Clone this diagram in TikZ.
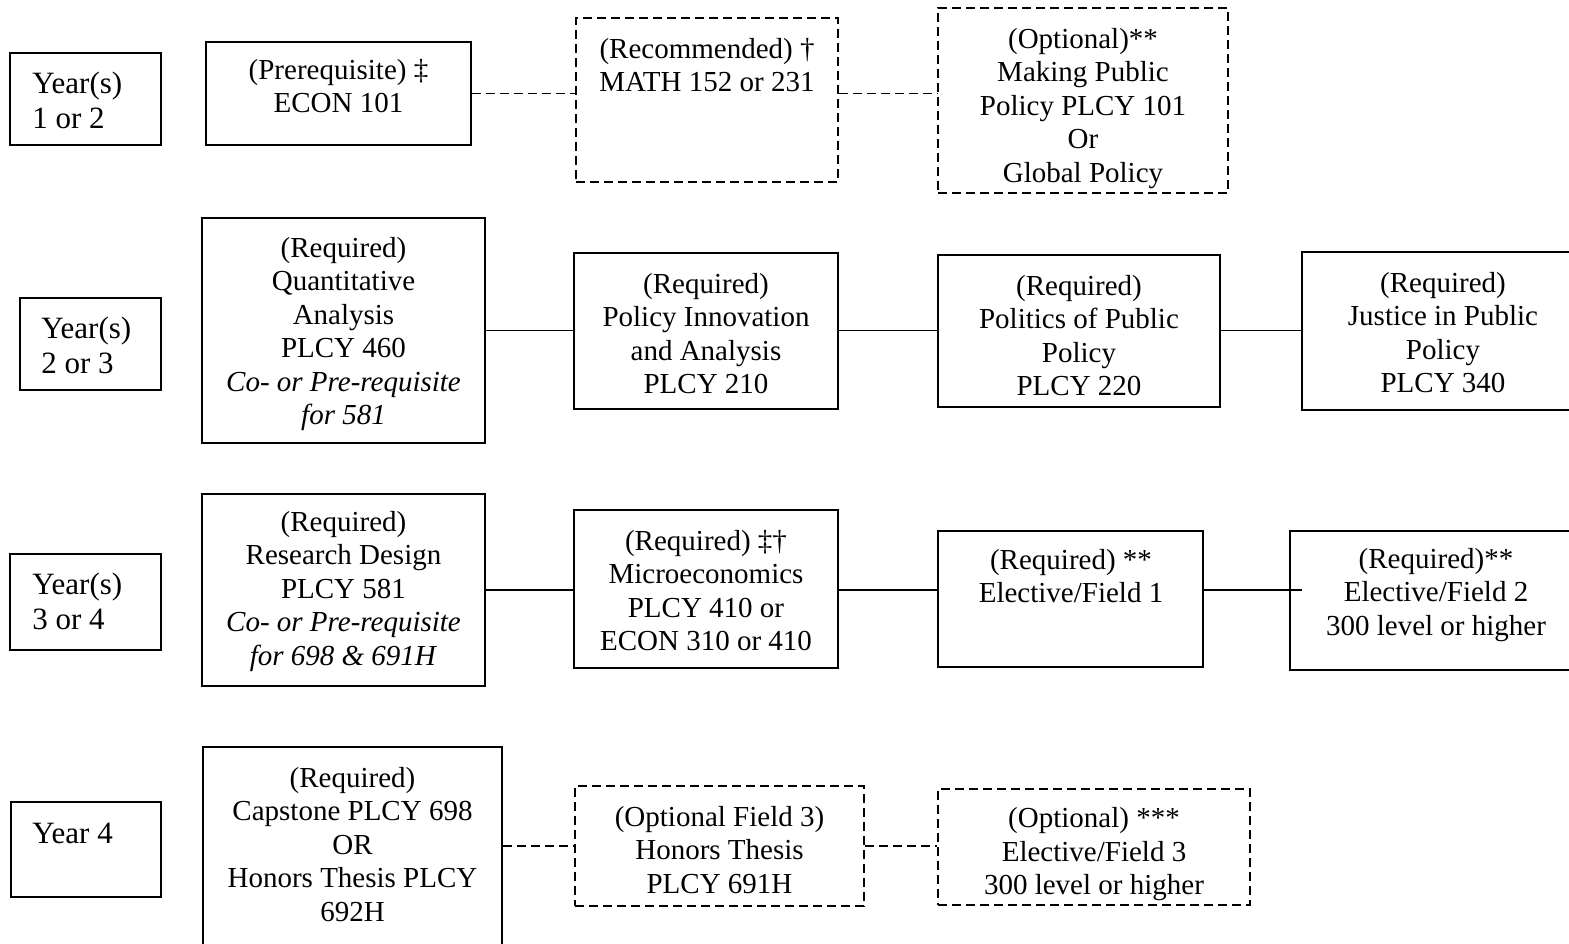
\documentclass[tikz,border=0pt]{standalone}
\usepackage{fontspec}
\setmainfont{Liberation Serif}
\usetikzlibrary{fit}
\tikzset{
  sbox/.style={draw, line width=0.85pt, inner sep=0pt},
  dbox/.style={draw, line width=0.85pt, inner sep=0pt, dash pattern=on 4.5pt off 2.5pt},
  txt/.style={inner sep=0pt, align=center, anchor=base, font=\fontsize{14.5}{16.75}\selectfont},
  ytxt/.style={inner sep=0pt, align=left, anchor=base west, font=\fontsize{15.5}{17.5}\selectfont},
  link/.style={line width=0.85pt},
  dlink/.style={line width=0.85pt, dash pattern=on 4.5pt off 2.5pt},
}
\begin{document}
\begin{tikzpicture}[x=0.5pt,y=-0.5pt]
\useasboundingbox (0,0) rectangle (1569,943);
% multi-line texts are anchored at the baseline of their last line

% ---------- Row 1 ----------
\node[sbox, fit={(10,53) (161,145)}] (y1) {};
\node[ytxt] (y1t) at (32,128) {Year(s)\\1 or 2};
\node[sbox, fit={(206,42) (471,145)}] (pre) {};
\node[txt] (pret) at (338.5,112.5) {(Prerequisite) ‡\\ECON 101};
\node[dbox, fit={(576,18) (838,182)}] (rec) {};
\node[txt] (rect) at (707,91.5) {(Recommended) †\\MATH 152 or 231};
\node[dbox, fit={(938,8) (1228,193)}] (opt) {};
\node[txt] (optt) at (1083,182) {(Optional)**\\Making Public\\Policy PLCY 101\\Or\\Global Policy};
\draw[dlink] (pre.east) -- (pre.east -| rec.west);
\draw[dlink] (rec.east |- pre.east) -- (opt.west |- pre.east);

% ---------- Row 2 ----------
\node[sbox, fit={(20,298) (161,390)}] (y2) {};
\node[ytxt] (y2t) at (41,373) {Year(s)\\2 or 3};
\node[sbox, fit={(202,218) (485,443)}] (qa) {};
\node[txt] (qat) at (343.5,424.5) {(Required)\\Quantitative\\Analysis\\PLCY 460\\\textit{Co- or Pre-requisite}\\\textit{for 581}};
\node[sbox, fit={(574,253) (838,409)}] (pia) {};
\node[txt] (piat) at (706,393.5) {(Required)\\Policy Innovation\\and Analysis\\PLCY 210};
\node[sbox, fit={(938,255) (1220,407)}] (ppp) {};
\node[txt] (pppt) at (1079,395.5) {(Required)\\Politics of Public\\Policy\\PLCY 220};
\node[sbox, fit={(1302,252) (1590,410)}] (jpp) {};
\node[txt] (jppt) at (1443,392.5) {(Required)\\Justice in Public\\Policy\\PLCY 340};
\draw[link] (qa.east) -- (qa.east -| pia.west);
\draw[link] (pia.east |- qa.east) -- (ppp.west |- qa.east);
\draw[link] (ppp.east |- qa.east) -- (jpp.west |- qa.east);

% ---------- Row 3 ----------
\node[sbox, fit={(10,554) (161,650)}] (y3) {};
\node[ytxt] (y3t) at (32,629) {Year(s)\\3 or 4};
\node[sbox, fit={(202,494) (485,686)}] (rd) {};
\node[txt] (rdt) at (343.5,665) {(Required)\\Research Design\\PLCY 581\\\textit{Co- or Pre-requisite}\\\textit{for 698 \& 691H}};
\node[sbox, fit={(574,510) (838,668)}] (mic) {};
\node[txt] (mict) at (706,650.5) {(Required) ‡†\\Microeconomics\\PLCY 410 or\\ECON 310 or 410};
\node[sbox, fit={(938,531) (1203,667)}] (ef1) {};
\node[txt] (ef1t) at (1071,602.5) {(Required) **\\Elective/Field 1};
\node[sbox, fit={(1290,531) (1590,670)}] (ef2) {};
\node[txt] (ef2t) at (1436,635) {(Required)**\\Elective/Field 2\\300 level or higher};
\coordinate (ef2in) at (1302,590);
\draw[link] (rd.east) -- (rd.east -| mic.west);
\draw[link] (mic.east |- rd.east) -- (ef1.west |- rd.east);
\draw[link] (ef1.east |- rd.east) -- (ef2in);

% ---------- Row 4 ----------
\node[sbox, fit={(11,802) (161,897)}] (y4) {};
\node[ytxt] (y4t) at (32,843) {Year 4};
\node[sbox, fit={(203,747) (502,960)}] (cap) {};
\node[txt] (capt) at (352.5,921) {(Required)\\Capstone PLCY 698\\OR\\Honors Thesis PLCY\\692H};
\node[dbox, fit={(575,786) (864,906)}] (ht) {};
\node[txt] (htt) at (719.5,893) {(Optional Field 3)\\Honors Thesis\\PLCY 691H};
\node[dbox, fit={(938,789) (1250,905)}] (ef3) {};
\begin{scope}
  \clip (938,789) rectangle (1250,900);
  \node[txt] (ef3t) at (1094,894.5) {(Optional) ***\\Elective/Field 3\\300 level or higher};
\end{scope}
\draw[dlink] (cap.east |- ht.west) -- (ht.west);
\draw[dlink] (ht.east) -- (ht.east -| ef3.west);
\end{tikzpicture}
\end{document}
